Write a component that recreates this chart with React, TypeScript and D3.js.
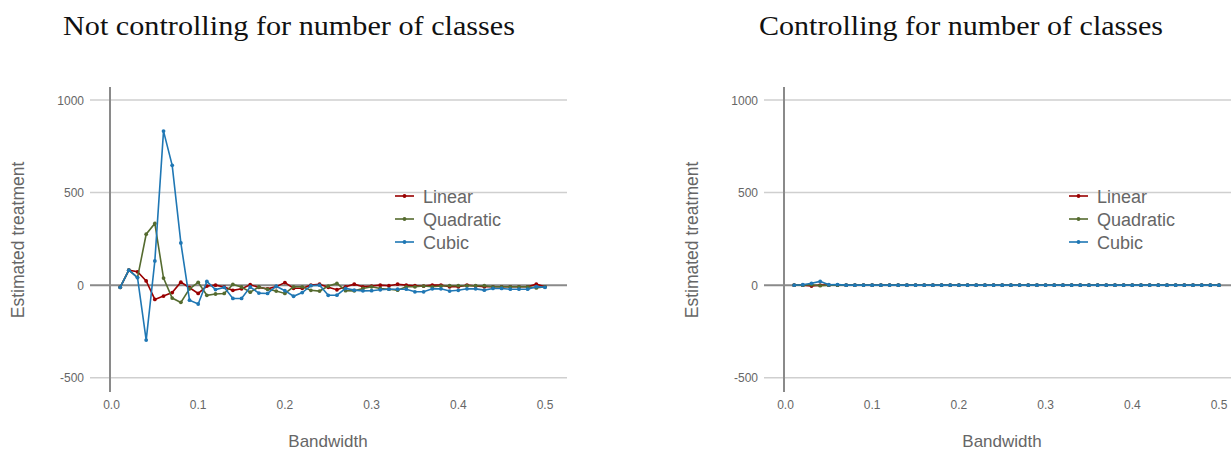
import React from "react";
import * as d3 from "d3";

const bandwidth = [
  0.01, 0.02, 0.03, 0.04, 0.05, 0.06, 0.07, 0.08, 0.09, 0.1,
  0.11, 0.12, 0.13, 0.14, 0.15, 0.16, 0.17, 0.18, 0.19, 0.2,
  0.21, 0.22, 0.23, 0.24, 0.25, 0.26, 0.27, 0.28, 0.29, 0.3,
  0.31, 0.32, 0.33, 0.34, 0.35, 0.36, 0.37, 0.38, 0.39, 0.4,
  0.41, 0.42, 0.43, 0.44, 0.45, 0.46, 0.47, 0.48, 0.49, 0.5,
];

// Left panel: not controlling for number of classes
const linearA = [
  -12, 81, 72, 23, -77, -59, -40, 16, -14, -45,
  -5, 0, -10, -28, -20, 2, -12, -20, -8, 14,
  -17, -17, 0, 5, -12, -25, -9, 5, -9, -5,
  0, -3, 5, 0, -3, -5, 0, 0, -9, -9,
  0, -5, -9, -9, -9, -9, -9, -9, 5, -9,
];
const quadraticA = [
  -12, 81, 41, 275, 333, 38, -70, -93, -20, 15,
  -55, -48, -45, 4, -10, -38, -10, -22, -32, -45,
  -9, -9, -28, -32, -5, 9, -30, -31, -18, -9,
  -18, -22, -27, -9, -9, -5, -9, -5, -3, -3,
  -3, -3, -3, -9, -9, -9, -9, -9, -15, -9,
];
const cubicA = [
  -12, 81, 41, -297, 131, 832, 647, 228, -81, -102,
  20, -24, -12, -72, -72, -10, -43, -45, -6, -30,
  -60, -40, -3, 0, -55, -54, -18, -27, -31, -30,
  -25, -22, -22, -22, -36, -36, -20, -20, -32, -28,
  -20, -20, -27, -18, -18, -22, -22, -22, -8, -12,
];

// Right panel: controlling for number of classes
const linearB = [
  0, 0, -5, 0, 0, 0, 0, 0, 0, 0,
  0, 0, 0, 0, 0, 0, 0, 0, 0, 0,
  0, 0, 0, 0, 0, 0, 0, 0, 0, 0,
  0, 0, 0, 0, 0, 0, 0, 0, 0, 0,
  0, 0, 0, 0, 0, 0, 0, 0, 0, 0,
];
const quadraticB = [
  0, 0, 2, -3, 0, 0, 0, 0, 0, 0,
  0, 0, 0, 0, 0, 0, 0, 0, 0, 0,
  0, 0, 0, 0, 0, 0, 0, 0, 0, 0,
  0, 0, 0, 0, 0, 0, 0, 0, 0, 0,
  0, 0, 0, 0, 0, 0, 0, 0, 0, 0,
];
const cubicB = [
  0, 2, 10, 20, 2, 3, 0, 0, 0, 0,
  0, 0, 0, 0, 0, 0, 0, 0, 0, 0,
  0, 0, 0, 0, 0, 0, 0, 0, 0, 0,
  0, 0, 0, 0, 0, 0, 0, 0, 0, 0,
  0, 0, 0, 0, 0, 0, 0, 0, 0, 0,
];

const seriesNames = ["Linear", "Quadratic", "Cubic"];
const seriesColors = ["#990000", "#556b2f", "#1f77b4"];
const yTicks = [1000, 500, 0, -500];
const xTicks = [0, 0.1, 0.2, 0.3, 0.4, 0.5];
const titles = ["Not controlling for number of classes", "Controlling for number of classes"];

const SANS = "'Liberation Sans', Arial, sans-serif";
const TXT = "#666666";

function Panel({ ox, title, titleX, titleW, series }: any) {
  const axisX = ox + 110;
  const x = d3.scaleLinear().domain([0, 0.5]).range([ox + 111.5, ox + 545]);
  const y = d3.scaleLinear().domain([1000, -500]).range([100, 377.7]);
  const line = d3
    .line<number>()
    .x((_, i) => x(bandwidth[i]))
    .y((d) => y(d));
  const gridL = ox + 90;
  const gridR = ox + 567;
  return (
    <g>
      <text
        x={titleX}
        y={35}
        fontFamily="'Liberation Serif', 'Times New Roman', serif"
        fontSize={28}
        fill="#111"
        textLength={titleW}
        lengthAdjust="spacingAndGlyphs"
      >
        {title}
      </text>
      {yTicks.map((t) => (
        <g key={t}>
          <line
            x1={gridL}
            x2={gridR}
            y1={y(t)}
            y2={y(t)}
            stroke={t === 0 ? "#8a8a8a" : "#cfcfcf"}
            strokeWidth={t === 0 ? 2 : 1.5}
          />
          <text
            x={ox + 84}
            y={y(t) + 4.5}
            textAnchor="end"
            fontFamily={SANS}
            fontSize={12}
            fill={TXT}
          >
            {t}
          </text>
        </g>
      ))}
      <line x1={axisX} x2={axisX} y1={87} y2={392} stroke="#8a8a8a" strokeWidth={2} />
      {xTicks.map((t) => (
        <text
          key={t}
          x={x(t)}
          y={409}
          textAnchor="middle"
          fontFamily={SANS}
          fontSize={12}
          fill={TXT}
        >
          {d3.format(".1f")(t)}
        </text>
      ))}
      <text
        x={ox + 328}
        y={447}
        textAnchor="middle"
        fontFamily={SANS}
        fontSize={17}
        fill={TXT}
      >
        Bandwidth
      </text>
      <text
        transform={`translate(${ox + 24},240) rotate(-90)`}
        textAnchor="middle"
        fontFamily={SANS}
        fontSize={17.5}
        fill={TXT}
      >
        Estimated treatment
      </text>
      {series.map((vals: number[], si: number) => (
        <g key={si}>
          <path d={line(vals) || ""} fill="none" stroke={seriesColors[si]} strokeWidth={1.6} />
          {vals.map((v, i) => (
            <circle key={i} cx={x(bandwidth[i])} cy={y(v)} r={1.9} fill={seriesColors[si]} />
          ))}
        </g>
      ))}
      {seriesNames.map((name, si) => {
        const ly = 196 + si * 23;
        return (
          <g key={name}>
            <line x1={ox + 395} x2={ox + 414} y1={ly} y2={ly} stroke={seriesColors[si]} strokeWidth={1.6} />
            <circle cx={ox + 404.5} cy={ly} r={1.9} fill={seriesColors[si]} />
            <text x={ox + 423} y={ly + 6.5} fontFamily={SANS} fontSize={18} fill={TXT}>
              {name}
            </text>
          </g>
        );
      })}
    </g>
  );
}

export default function App() {
  return (
    <svg
      width={1231}
      height={451}
      style={{ position: "absolute", left: 0, top: 0, background: "#fff" }}
    >
      <rect width={1231} height={451} fill="#fff" />
      <Panel ox={0} title={titles[0]} titleX={63} titleW={452} series={[linearA, quadraticA, cubicA]} />
      <Panel ox={674} title={titles[1]} titleX={759} titleW={404} series={[linearB, quadraticB, cubicB]} />
    </svg>
  );
}
